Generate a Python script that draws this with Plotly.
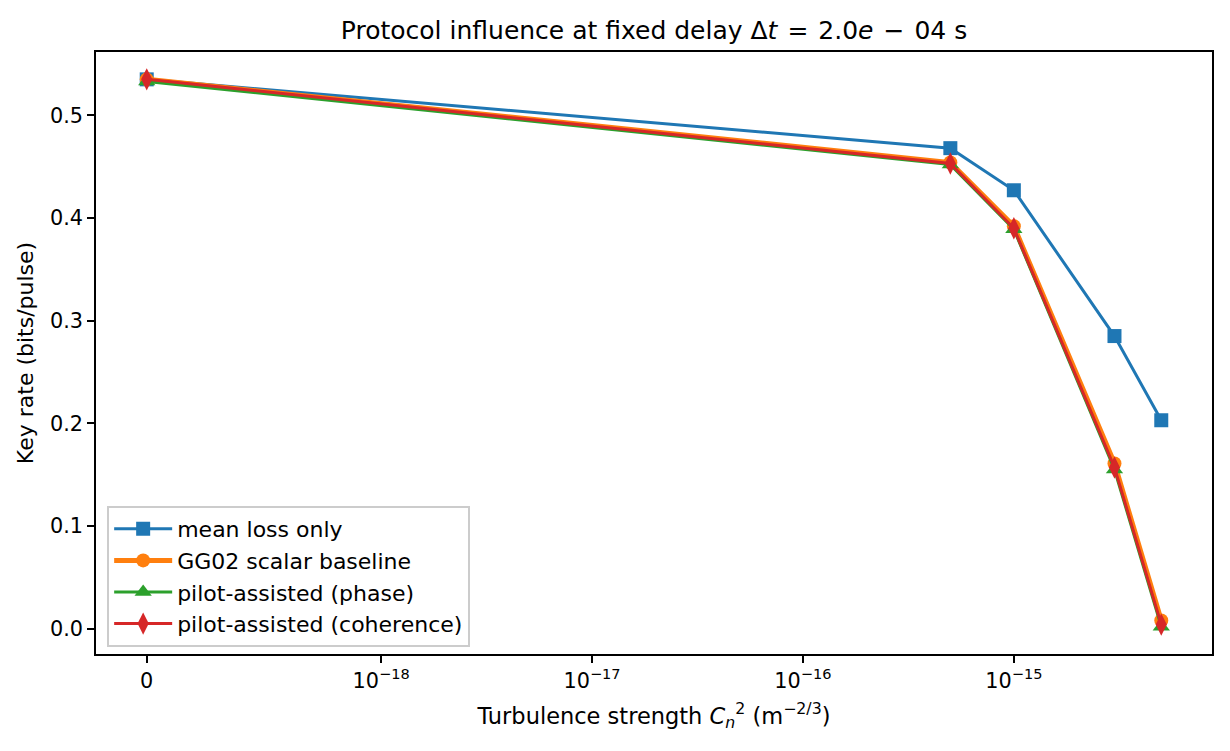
import math
import plotly.graph_objects as go

# ---- data ----
cn2 = [0.0, 5e-16, 1e-15, 3e-15, 5e-15]
mean_loss = [0.535, 0.468, 0.427, 0.285, 0.203]
gg02 = [0.535, 0.454, 0.392, 0.161, 0.008]
pilot_phase = [0.533, 0.452, 0.389, 0.155, 0.002]
pilot_coh = [0.535, 0.453, 0.390, 0.157, 0.004]
tick_vals = [0.0, 1e-18, 1e-17, 1e-16, 1e-15]
tick_text = ["0", "10<sup>−18</sup>", "10<sup>−17</sup>", "10<sup>−16</sup>", "10<sup>−15</sup>"]
series_names = ["mean loss only", "GG02 scalar baseline",
                "pilot-assisted (phase)", "pilot-assisted (coherence)"]

LINTHRESH = 1e-18
LINSCALE_ADJ = 1.0 / (1.0 - 1.0 / 10.0)


def symlog(v):
    a = abs(v)
    if a <= LINTHRESH:
        return v / LINTHRESH * LINSCALE_ADJ
    s = 1 if v > 0 else -1
    return s * (LINSCALE_ADJ + math.log10(a / LINTHRESH))


xt = [symlog(v) for v in cn2]
xmin, xmax = min(xt), max(xt)
pad = 0.05 * (xmax - xmin)
allv = mean_loss + gg02 + pilot_phase + pilot_coh
ymin, ymax = min(allv), max(allv)
ypad = 0.05 * (ymax - ymin)

FONT = "DejaVu Sans"
fig = go.Figure()
styles = [
    (mean_loss, "#1f77b4", 3, "square", 14),
    (gg02, "#ff7f0e", 5, "circle", 14),
    (pilot_phase, "#2ca02c", 3, "triangle-up", 15),
    (pilot_coh, "#d62728", 3, "diamond-tall", 16),
]
for (ys, col, lw, sym, ms), name in zip(styles, series_names):
    fig.add_trace(go.Scatter(
        x=xt, y=ys, name=name, mode="lines+markers",
        line=dict(color=col, width=lw),
        marker=dict(symbol=sym, size=ms, color=col, line=dict(width=0)),
    ))

title_text = ("Protocol influence at fixed delay Δ<i>t</i>\u2009\u2009=\u2009\u20092.0<i>e</i>"
              "\u2009\u2009−\u2009\u200904 s")

fig.update_layout(
    width=1230, height=751,
    margin=dict(l=96, r=18, t=52, b=97),
    paper_bgcolor="white", plot_bgcolor="white",
    font=dict(family=FONT, size=20.8, color="black"),
    title=dict(text=title_text,
               x=0.5, xref="paper", xanchor="center", y=0.96, yanchor="middle",
               font=dict(size=25)),
    showlegend=True,
    legend=dict(x=0.01, y=0.0116, xanchor="left", yanchor="bottom",
                bgcolor="rgba(255,255,255,0.8)", bordercolor="#cccccc", borderwidth=2,
                font=dict(size=22), itemwidth=58),
)
fig.update_xaxes(
    range=[xmin - pad, xmax + pad], tickmode="array",
    tickvals=[symlog(v) for v in tick_vals], ticktext=tick_text,
    showgrid=False, zeroline=False, showline=True, mirror=True,
    linecolor="black", linewidth=1.6, ticks="outside", ticklen=7, tickwidth=1.6,
    tickcolor="black",
    title=dict(text="Turbulence strength <i>C</i><sub><i>n</i></sub><sup>2</sup> (m<sup>−2/3</sup>)",
               standoff=16, font=dict(size=22.5)),
)
fig.update_yaxes(
    range=[ymin - ypad, ymax + ypad], tickmode="array",
    tickvals=[0.0, 0.1, 0.2, 0.3, 0.4, 0.5],
    ticktext=["0.0", "0.1", "0.2", "0.3", "0.4", "0.5"],
    showgrid=False, zeroline=False, showline=True, mirror=True,
    linecolor="black", linewidth=1.6, ticks="outside", ticklen=7, tickwidth=1.6,
    tickcolor="black",
    title=dict(text="Key rate (bits/pulse)", standoff=10, font=dict(size=22)),
)
fig.write_html("out.html")
